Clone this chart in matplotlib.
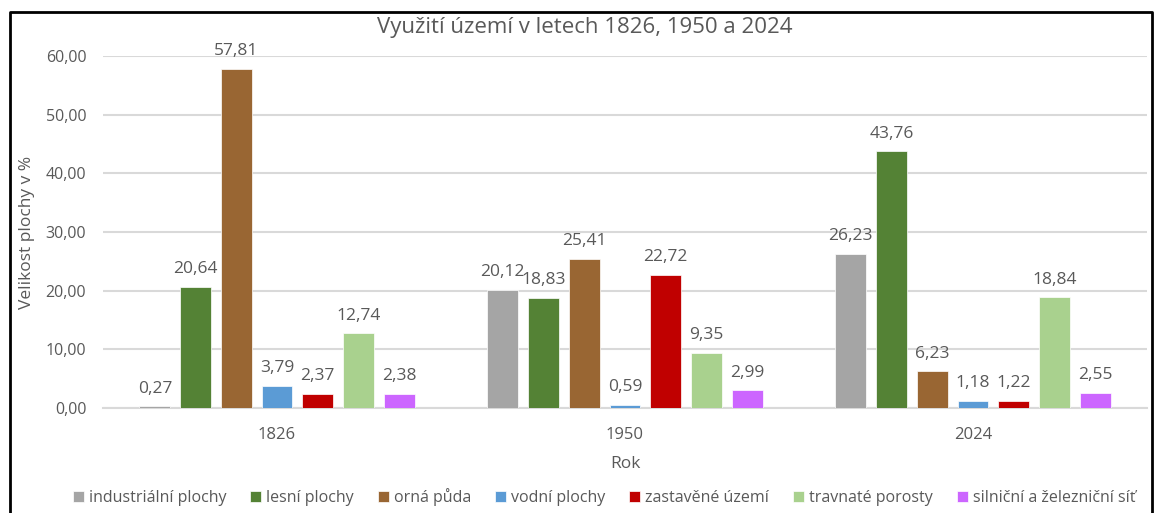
import numpy as np
import matplotlib.pyplot as plt
from matplotlib.lines import Line2D

plt.rcParams['font.family'] = ['Open Sans', 'DejaVu Sans']

years = ['1826', '1950', '2024']
categories = ['industriální plochy', 'lesní plochy', 'orná půda', 'vodní plochy',
              'zastavěné území', 'travnaté porosty', 'silniční a železniční síť']
industrialni = [0.27, 20.12, 26.23]
lesni = [20.64, 18.83, 43.76]
orna = [57.81, 25.41, 6.23]
vodni = [3.79, 0.59, 1.18]
zastavene = [2.37, 22.72, 1.22]
travnate = [12.74, 9.35, 18.84]
silnicni = [2.38, 2.99, 2.55]
series = [industrialni, lesni, orna, vodni, zastavene, travnate, silnicni]
colors = ['#A5A5A5', '#548235', '#996633', '#5B9BD5', '#C00000', '#A9D18E', '#CC66FF']

text_color = '#595959'

fig = plt.figure(figsize=(11.54, 5.13), dpi=100)
ax = fig.add_axes([103 / 1154, 1 - 408 / 513, (1147 - 103) / 1154, (408 - 56) / 513])

x = np.arange(len(years))
step = 0.117
width = 0.089
for i, (vals, name, col) in enumerate(zip(series, categories, colors)):
    offs = (i - 3) * step
    bars = ax.bar(x + offs, vals, width, color=col, label=name, edgecolor='white', linewidth=0.5, zorder=3)
    for b, v in zip(bars, vals):
        ax.annotate(f'{v:.2f}'.replace('.', ','), (b.get_x() + b.get_width() / 2, v),
                    xytext=(0, 7), textcoords='offset points', ha='center', va='bottom',
                    fontsize=12.5, color=text_color)

ax.set_xlim(-0.5, 2.5)
ax.set_ylim(0, 60)
ax.set_yticks(range(0, 61, 10))
ax.set_yticklabels([f'{v},00' for v in range(0, 61, 10)])
ax.set_xticks(x)
ax.set_xticklabels(years)
ax.tick_params(axis='both', length=0, labelsize=11.5, labelcolor=text_color)
ax.tick_params(axis='x', labelsize=12, pad=14)
ax.tick_params(axis='y', pad=12)
ax.grid(axis='y', color='#D9D9D9', linewidth=1.5, zorder=0)
for s in ['top', 'right', 'left']:
    ax.spines[s].set_visible(False)
ax.spines['bottom'].set_color('#D9D9D9')
ax.spines['bottom'].set_linewidth(1.5)

ax.set_xlabel('Rok', fontsize=12.5, color=text_color, labelpad=9)
ax.set_ylabel('Velikost plochy v %', fontsize=12.5, color=text_color, labelpad=8)

fig.text(585 / 1154, 1 - 28 / 513, 'Využití území v letech 1826, 1950 a 2024',
         ha='center', va='center', fontsize=16, color=text_color)

fig.legend(loc='center', bbox_to_anchor=(604 / 1154, 1 - 497 / 513), ncol=7, frameon=False,
           fontsize=11.5, labelcolor=text_color, handlelength=0.7, handleheight=0.7,
           handletextpad=0.3, columnspacing=1.5)

# ramecek kolem grafu
fx = [10 / 1154, 10 / 1154, 1152 / 1154, 1152 / 1154]
fy = [0, 1 - 12 / 513, 1 - 12 / 513, 0]
fig.add_artist(Line2D(fx, fy, color='black', linewidth=2, transform=fig.transFigure))

fig.savefig('out.png', dpi=100)
